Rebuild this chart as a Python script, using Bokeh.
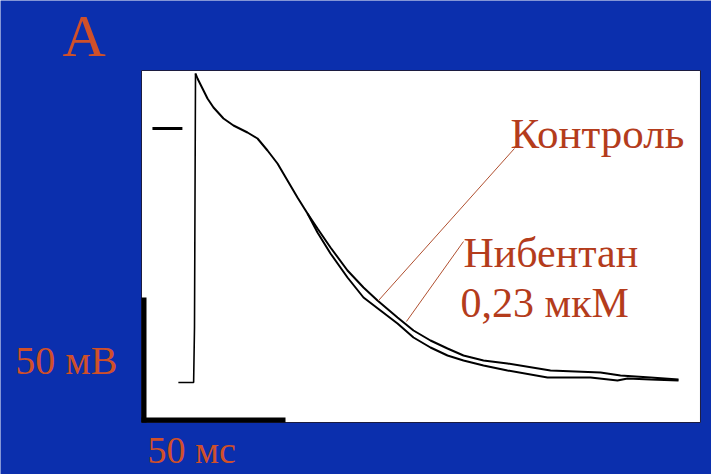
from bokeh.plotting import figure
from bokeh.models import Range1d, Label
from bokeh.embed import file_html
from bokeh.resources import INLINE

# ---- data (time in ms, membrane potential in mV) ----
rest_t = [-5.6, -0.3, 0.0]
rest_v = [-101.6, -101.6, -79.6]

plateau_t = [0.35, 1.04, 2.78, 4.51, 6.60, 10.07, 13.54, 18.40, 21.88, 25.35,
             28.82, 32.29, 35.76, 39.24]
plateau_v = [22.0, 20.0, 16.0, 12.0, 8.4, 4.0, 1.2, -1.6, -4.0, -8.8,
             -14.0, -20.8, -27.6, -34.0]

nib_t = [42.71, 47.22, 53.13, 58.68, 63.54, 70.49, 76.04, 81.94, 87.85, 93.40,
         100.35, 108.68, 123.61, 140.97, 147.92, 158.33, 168.06]
nib_v = [-40.0, -47.6, -56.8, -63.6, -68.8, -75.6, -80.8, -84.8, -88.0, -90.8,
         -92.8, -94.0, -96.8, -97.6, -98.8, -99.6, -100.4]

ctrl_t = [42.71, 47.22, 53.13, 58.68, 64.58, 70.49, 76.04, 81.94, 87.85, 93.40,
          100.35, 108.68, 122.57, 137.50, 146.88, 150.35, 158.33, 168.06]
ctrl_v = [-41.6, -50.0, -59.6, -67.6, -72.8, -78.0, -83.6, -87.6, -90.8, -92.8,
          -94.8, -96.8, -99.6, -99.6, -100.8, -100.0, -100.4, -100.8]

zero_t = [-14.6, -4.2]
zero_v = [0.0, 0.0]

scale_ms = 50
scale_mv = 50

label_ctrl = "Контроль"
label_nib1 = "Нибентан"
label_nib2 = "0,23 мкМ"
label_panel = "A"
label_mv = "50 мВ"
label_ms = "50 мс"

# ---- figure ----
BLUE = "#0b2fad"
TXT_BLUE = "#d0502a"
TXT_WHITE = "#b43c1c"
FONT = "Liberation Serif"

W, H = 711, 474
PX_MS, PX_MV = 2.88, 2.5
fx0, fx1 = -67.36, -67.36 + W / PX_MS
fy1, fy0 = 51.2, 51.2 - H / PX_MV

# white recording panel
px0, px1 = -18.40, 175.69
py0, py1 = -117.6, 23.2

p = figure(width=W, height=H, output_backend="svg", toolbar_location=None,
           x_axis_type=None, y_axis_type=None,
           x_range=Range1d(fx0, fx1), y_range=Range1d(fy0, fy1),
           min_border=0)
p.border_fill_color = BLUE
p.background_fill_color = BLUE
p.outline_line_color = None
p.grid.visible = False

p.quad(left=[px0], right=[px1], bottom=[py0], top=[py1],
       fill_color="white", line_color="#1c1c40", line_width=1)

# traces
p.line(rest_t + plateau_t[:1], rest_v + plateau_v[:1], line_color="black", line_width=1.6)
p.line(plateau_t + nib_t, plateau_v + nib_v, line_color="black", line_width=2)
p.line(plateau_t[-1:] + ctrl_t, plateau_v[-1:] + ctrl_v, line_color="black", line_width=2)

# zero-level marker
p.line(zero_t, zero_v, line_color="black", line_width=3)

# scale bars
dx = 2.5 / PX_MS
dy = 2.5 / PX_MV
p.line([px0 + dx, px0 + dx], [py0, py0 + scale_mv], line_color="black", line_width=5)
p.line([px0, px0 + scale_ms], [py0 + dy, py0 + dy], line_color="black", line_width=5)

# pointer lines
p.line([63.9, 111.1], [-68.8, -8.0], line_color="#b05030", line_width=1)
p.line([73.6, 93.4], [-77.2, -45.2], line_color="#b05030", line_width=1)

def lab(x, y, text, size, color):
    p.add_layout(Label(x=x, y=y, text=text, text_font=FONT,
                       text_font_size=size, text_color=color,
                       text_baseline="alphabetic", text_align="left"))

lab(109.7, -2.0, label_ctrl, "43px", TXT_WHITE)
lab(93.4, -49.6, label_nib1, "42px", TXT_WHITE)
lab(92.4, -69.6, label_nib2, "42px", TXT_WHITE)
lab(-45.8, 37.2, label_panel, "60px", TXT_BLUE)
lab(-62.2, -92.8, label_mv, "40px", TXT_BLUE)
lab(-16.3, -128.4, label_ms, "38px", TXT_BLUE)

open("out.html", "w").write(file_html(p, INLINE))
